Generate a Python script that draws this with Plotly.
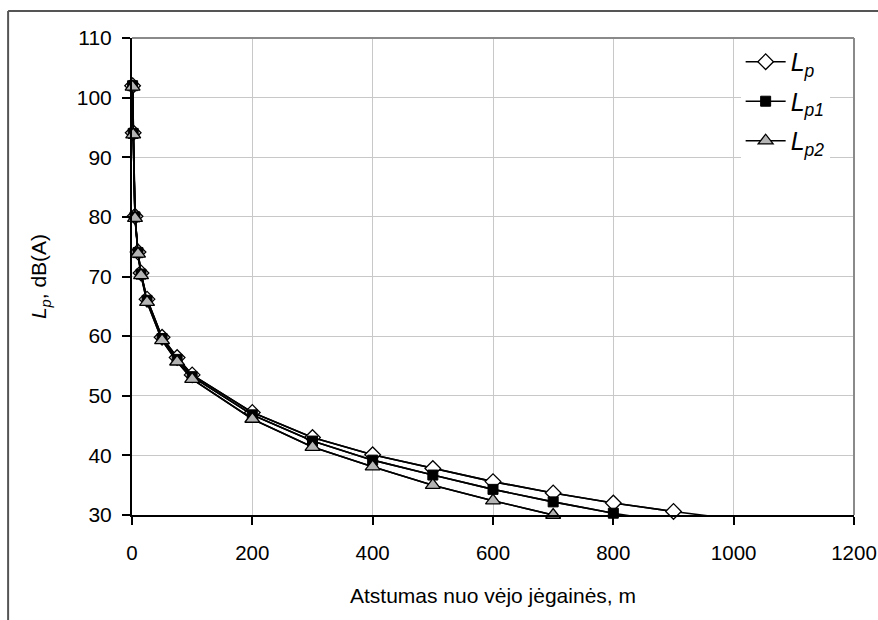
import plotly.graph_objects as go

# Distance from wind turbine, m
distance = [1, 2, 5, 10, 15, 25, 50, 75, 100, 200, 300, 400, 500, 600, 700, 800, 900, 1000]
# Sound pressure levels, dB(A)
Lp  = [102.0, 94.1, 80.1, 74.1, 70.6, 66.2, 59.8, 56.4, 53.5, 47.2, 43.0, 40.1, 37.8, 35.6, 33.7, 32.0, 30.6, 29.3]
Lp1 = [102.0, 94.0, 80.0, 74.0, 70.4, 66.0, 59.6, 56.1, 53.2, 46.8, 42.4, 39.2, 36.7, 34.3, 32.2, 30.3, 28.7, 27.2]
Lp2 = [101.8, 93.8, 79.8, 73.8, 70.2, 65.7, 59.3, 55.7, 52.8, 46.1, 41.4, 38.1, 35.0, 32.4, 30.0, 27.8, 25.8, 24.0]

names = ["<i>L<sub>p</sub></i>", "<i>L<sub>p1</sub></i>", "<i>L<sub>p2</sub></i>"]
x_ticks = [0, 200, 400, 600, 800, 1000, 1200]
y_ticks = [30, 40, 50, 60, 70, 80, 90, 100, 110]

X_MIN, X_MAX = 0, 1200
Y_MIN, Y_MAX = 30, 110

styles = [
    dict(symbol="diamond", size=12, color="white", line=dict(color="black", width=1.3)),
    dict(symbol="square", size=10, color="black", line=dict(color="black", width=1)),
    dict(symbol="triangle-up", size=13, color="#b4b4b4", line=dict(color="black", width=1.3)),
]

fig = go.Figure()
series = [Lp, Lp1, Lp2]

# full lines (clipped by the plot area)
for ys in series:
    fig.add_trace(go.Scatter(x=distance, y=ys, mode="lines",
                             line=dict(color="black", width=1.6),
                             showlegend=False, hoverinfo="skip"))

# markers for points in the visible range
for ys, nm, st in zip(series, names, styles):
    xv = [x for x, y in zip(distance, ys) if y >= Y_MIN]
    yv = [y for y in ys if y >= Y_MIN]
    fig.add_trace(go.Scatter(x=xv, y=yv, mode="lines+markers", name=nm,
                             line=dict(color="black", width=1.6),
                             marker=st, cliponaxis=False,
                             legendgroup=nm))

font_family = "Liberation Sans, Arial, sans-serif"

fig.update_layout(
    width=878, height=620,
    margin=dict(l=132, r=24, t=38, b=105, autoexpand=False),
    paper_bgcolor="white", plot_bgcolor="white",
    font=dict(family=font_family, color="black", size=21),
    showlegend=True,
    legend=dict(x=0.843, y=0.998, xanchor="left", yanchor="top",
                bgcolor="white", borderwidth=0,
                font=dict(size=25, family=font_family),
                traceorder="grouped", tracegroupgap=4, itemwidth=40),
    xaxis=dict(range=[X_MIN, X_MAX], tickvals=x_ticks, ticks="outside", ticklen=8,
               tickwidth=2, tickcolor="black", showline=True, linecolor="black",
               linewidth=2, showgrid=True, gridcolor="#c8c8c8", gridwidth=1,
               zeroline=False, ticklabelstandoff=10, ticklabeloverflow="allow",
               automargin=False, tickfont=dict(size=20.5),
               title=dict(text="Atstumas nuo vėjo jėgainės, m", standoff=26,
                          font=dict(size=21))),
    yaxis=dict(range=[Y_MIN, Y_MAX], tickvals=y_ticks, ticks="outside", ticklen=8,
               tickwidth=2, tickcolor="black", showline=True, linecolor="black",
               linewidth=2, showgrid=True, gridcolor="#c8c8c8", gridwidth=1,
               zeroline=False, ticklabelstandoff=6, ticklabeloverflow="allow",
               automargin=False,
               title=dict(text="<i>L<sub>p</sub></i>, dB(A)", standoff=24,
                          font=dict(size=21))),
    shapes=[
        # plot-area border (top and right) in gray
        dict(type="line", xref="paper", yref="paper", x0=0, x1=1, y0=1, y1=1,
             line=dict(color="#8a8a8a", width=2)),
        dict(type="line", xref="paper", yref="paper", x0=1, x1=1, y0=0, y1=1,
             line=dict(color="#8a8a8a", width=2)),
        # outer chart frame (left and top edges visible)
        dict(type="line", xref="paper", yref="paper", x0=-0.1716, x1=-0.1716,
             y0=-0.25, y1=1.0566, line=dict(color="#555555", width=2)),
        dict(type="line", xref="paper", yref="paper", x0=-0.1716, x1=1.1,
             y0=1.0566, y1=1.0566, line=dict(color="#555555", width=2)),
    ],
)

fig.write_html("out.html")
